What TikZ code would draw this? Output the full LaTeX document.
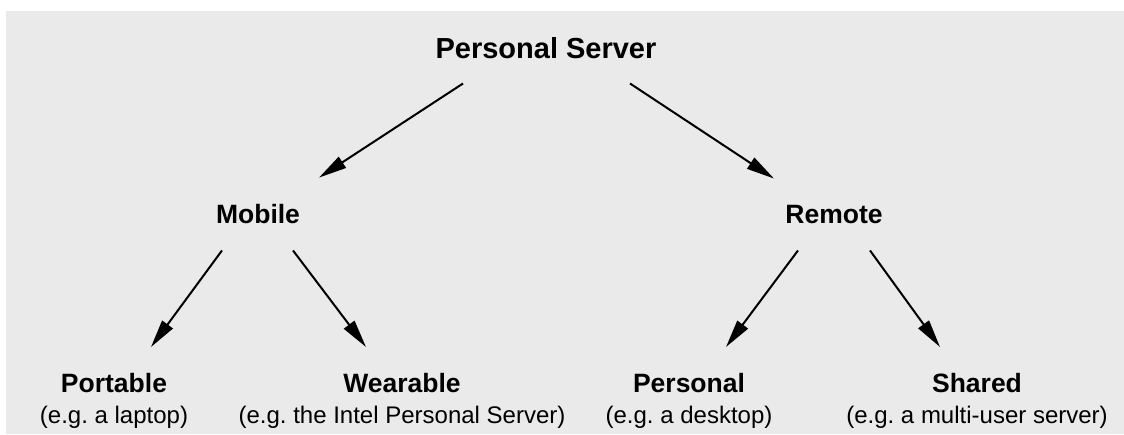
\documentclass[tikz,border=0pt]{standalone}
\usepackage{fontspec}
\setmainfont{Liberation Sans}
\usetikzlibrary{arrows.meta}
\definecolor{panel-gray}{RGB}{234, 234, 234}
\frenchspacing

\begin{document}
\begin{tikzpicture}[x=1pt, y=-1pt,
    head/.style={font=\bfseries\fontsize{29}{33}\selectfont, inner sep=0pt, anchor=base},
    branch/.style={font=\bfseries\fontsize{26.5}{31}\selectfont, inner sep=0pt, anchor=base},
    leaf/.style={font=\fontsize{24}{31}\selectfont, inner sep=0pt, anchor=north, align=center},
    link/.style={-{Triangle[length=28pt, width=13pt]}, line width=2pt}]
            \useasboundingbox (0, 0) rectangle (1124, 434);
            \fill[panel-gray] (6, 11) rectangle (1124, 434);
            \node[head] (server) at (546, 58) {Personal Server};
            \node[branch] (mobile) at (258, 223) {Mobile};
            \node[branch] (remote) at (834, 223) {Remote};
            \node[leaf] (portable) at (114, 373) {{\bfseries\fontsize{26.5}{31}\selectfont Portable}\\(e.g. a laptop)};
            \node[leaf] (wearable) at (402, 373) {{\bfseries\fontsize{26.5}{31}\selectfont Wearable}\\(e.g. the Intel Personal Server)};
            \node[leaf] (personal) at (689, 373) {{\bfseries\fontsize{26.5}{31}\selectfont Personal}\\(e.g. a desktop)};
            \node[leaf] (shared) at (977, 373) {{\bfseries\fontsize{26.5}{31}\selectfont Shared}\\(e.g. a multi-user server)};
            \draw[link] ([xshift=-83pt, yshift=-25pt]server.south) -- ([xshift=61pt, yshift=26pt]mobile.north);
            \draw[link] ([xshift=84pt, yshift=-25pt]server.south) -- ([xshift=-60pt, yshift=26pt]remote.north);
            \draw[link] ([xshift=-36pt, yshift=-27pt]mobile.south) -- ([xshift=37pt, yshift=26pt]portable.north);
            \draw[link] ([xshift=35pt, yshift=-27pt]mobile.south) -- ([xshift=-36pt, yshift=26pt]wearable.north);
            \draw[link] ([xshift=-36pt, yshift=-27pt]remote.south) -- ([xshift=37pt, yshift=26pt]personal.north);
            \draw[link] ([xshift=36pt, yshift=-27pt]remote.south) -- ([xshift=-37pt, yshift=26pt]shared.north);
        \end{tikzpicture}
\end{document}
